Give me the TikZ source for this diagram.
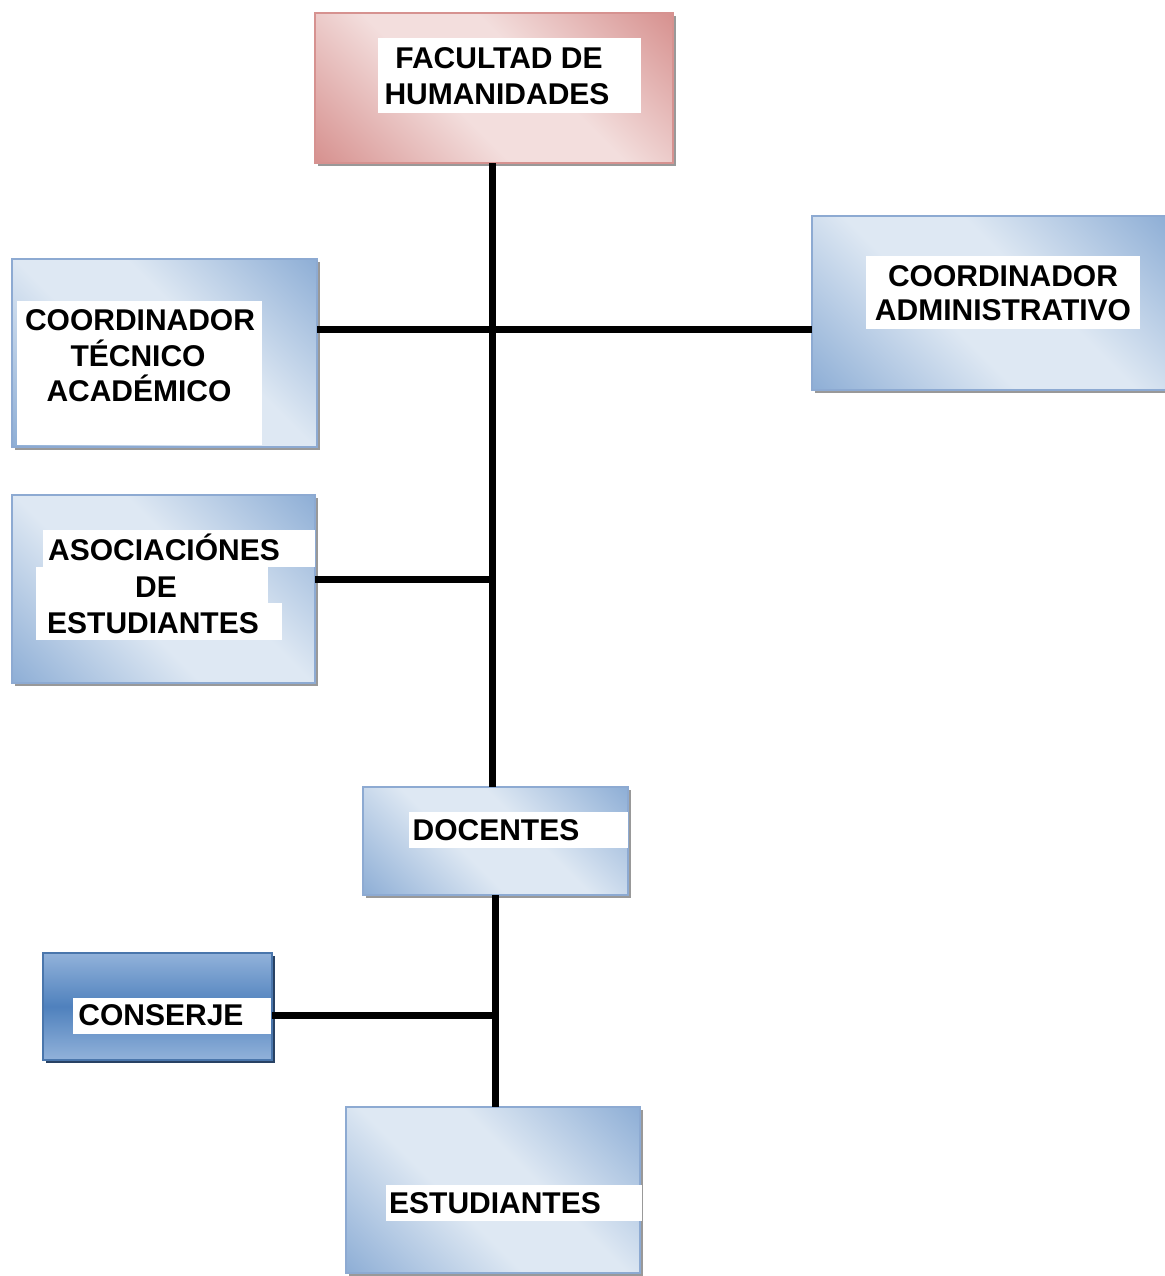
\documentclass[tikz,border=0pt]{standalone}
\usepackage{fontspec}
\setmainfont{Liberation Sans}
\definecolor{bdark}{RGB}{143,175,214}
\definecolor{blight}{RGB}{222,232,243}
\definecolor{bborder}{RGB}{141,170,210}
\definecolor{rdark}{RGB}{215,146,144}
\definecolor{rlight}{RGB}{243,222,221}
\definecolor{rborder}{RGB}{214,146,144}
\definecolor{cmid}{RGB}{79,129,189}
\definecolor{cedge}{RGB}{146,178,218}
\definecolor{cborder}{RGB}{74,118,172}
\definecolor{cshadow}{RGB}{40,66,100}
\pgfdeclareverticalshading{blueshade}{100bp}{color(0bp)=(bdark); color(15bp)=(bdark); color(42bp)=(blight); color(58bp)=(blight); color(85bp)=(bdark); color(100bp)=(bdark)}
\pgfdeclareverticalshading{redshade}{100bp}{color(0bp)=(rdark); color(15bp)=(rdark); color(42bp)=(rlight); color(58bp)=(rlight); color(85bp)=(rdark); color(100bp)=(rdark)}
\tikzset{
  box/.style={rectangle, inner sep=0pt, outer sep=0pt, line width=1.5pt,
    preaction={fill=black!40, draw=none, transform canvas={shift={(2.25pt,-2.25pt)}}}},
  bluebox/.style={box, draw=bborder, shading=blueshade, shading angle=-45},
  redbox/.style={box, draw=rborder, shading=redshade, shading angle=-45},
  darkbox/.style={rectangle, inner sep=0pt, outer sep=0pt, line width=1.5pt,
    preaction={fill=cshadow, draw=none, transform canvas={shift={(2.25pt,-2.25pt)}}},
    draw=cborder, shade, top color=cedge, bottom color=cedge, middle color=cmid},
  lbl/.style={anchor=base, inner sep=0pt, outer sep=0pt,
    font=\fontsize{22.5pt}{27pt}\selectfont\bfseries},
  conn/.style={line width=5.25pt, black},
}
\begin{document}
\begin{tikzpicture}[x=0.75pt, y=-0.75pt]
\useasboundingbox (0,0) rectangle (1164,1276);
% boxes
\node[redbox, minimum width={358*0.75pt}, minimum height={150*0.75pt}] (fac) at (494,88) {};
\node[bluebox, minimum width={305*0.75pt}, minimum height={188*0.75pt}] (cta) at (164.5,353) {};
\node[bluebox, minimum width={356*0.75pt}, minimum height={174*0.75pt}] (adm) at (990,303) {};
\node[bluebox, minimum width={303*0.75pt}, minimum height={188*0.75pt}] (aso) at (163.5,589) {};
\node[bluebox, minimum width={265*0.75pt}, minimum height={108*0.75pt}] (doc) at (495.5,841) {};
\node[darkbox, minimum width={229*0.75pt}, minimum height={107*0.75pt}] (con) at (157.5,1006.5) {};
\node[bluebox, minimum width={294*0.75pt}, minimum height={166*0.75pt}] (est) at (493,1190) {};
% white label backgrounds
\fill[white] (378,38) rectangle (641,113);
\fill[white] (17,301) rectangle (262,445);
\fill[white] (866,256) rectangle (1140,329);
\fill[white] (43,530) rectangle (315,567);
\fill[white] (36,567) rectangle (268,603);
\fill[white] (36,603) rectangle (282,640);
\fill[white] (409,812) rectangle (628,848);
\fill[white] (73,998) rectangle (271,1034);
\fill[white] (386,1185) rectangle (642,1221);
% texts
\node[lbl] (fac1) at (499,68.5) {FACULTAD DE};
\node[lbl] (fac2) at (497,104.5) {HUMANIDADES};
\node[lbl] (cta1) at (140,331) {COORDINADOR};
\node[lbl] (cta2) at (138,366.5) {TÉCNICO};
\node[lbl] (cta3) at (139,401.5) {ACADÉMICO};
\node[lbl] (adm1) at (1003,286.5) {COORDINADOR};
\node[lbl] (adm2) at (1003,321) {ADMINISTRATIVO};
\node[lbl] (aso1) at (164,560.5) {ASOCIACIÓNES};
\node[lbl] (aso2) at (156,597) {DE};
\node[lbl] (aso3) at (153,633.5) {ESTUDIANTES};
\node[lbl] (doc1) at (496,840) {DOCENTES};
\node[lbl] (con1) at (161,1025) {CONSERJE};
\node[lbl] (est1) at (495,1213) {ESTUDIANTES};
% junctions
\coordinate (j1) at (492.5,330);
\coordinate (j2) at (492.5,579.5);
\coordinate (j3) at (495,1015);
% connectors
\draw[conn] (fac.south -| j1) -- (doc.north -| j1);
\draw[conn] (cta.east |- j1) -- (adm.west |- j1);
\draw[conn] (aso.east |- j2) -- (j2);
\draw[conn] (doc.south -| j3) -- (est.north -| j3);
\draw[conn] (con.east |- j3) -- (j3);
\end{tikzpicture}
\end{document}
